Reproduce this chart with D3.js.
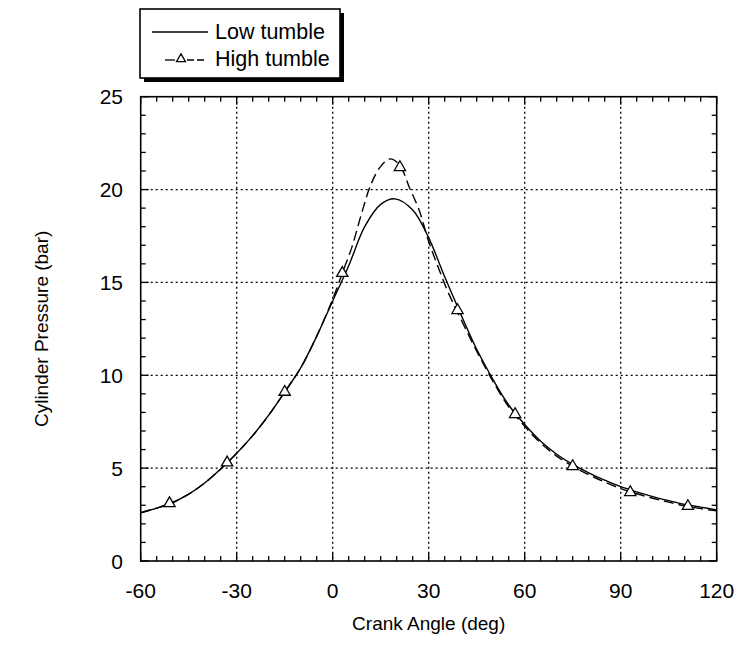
<!DOCTYPE html>
<html>
<head>
<meta charset="utf-8">
<script src="https://cdn.jsdelivr.net/npm/d3@7"></script>
<style>
  html, body { margin: 0; padding: 0; background: #fff; }
  svg { display: block; font-family: "Liberation Sans", Arial, Helvetica, sans-serif; }
</style>
</head>
<body>
<svg id="chart" width="738" height="646"></svg>
<script>
// Crank angle (deg) and cylinder pressure (bar) for the low tumble case
const lowAngle = [-60, -55, -50, -45, -40, -35, -30, -25, -20, -15, -10, -5, 0, 5, 10, 15, 19.5, 25, 30, 35, 40, 45, 50, 55, 60, 65, 70, 75, 80, 85, 90, 95, 100, 105, 110, 115, 120];
const lowPressure = [2.6, 2.85, 3.15, 3.6, 4.2, 4.95, 5.8, 6.75, 7.85, 9.1, 10.4, 12.1, 14.0, 15.9, 18.0, 19.2, 19.5, 18.9, 17.4, 15.3, 13.3, 11.4, 9.8, 8.4, 7.35, 6.45, 5.75, 5.2, 4.75, 4.35, 4.0, 3.72, 3.47, 3.25, 3.05, 2.9, 2.75];

// High tumble case
const highAngle = [-60, -55, -50, -45, -40, -35, -30, -25, -20, -15, -10, -5, 0, 3, 6, 9, 12, 15, 18, 21, 24, 27, 30, 33, 36, 39, 45, 50, 55, 60, 65, 70, 75, 80, 85, 90, 95, 100, 105, 110, 115, 120];
const highPressure = [2.6, 2.85, 3.15, 3.6, 4.2, 4.95, 5.8, 6.75, 7.85, 9.1, 10.4, 12.1, 14.1, 15.5, 16.9, 18.7, 20.3, 21.25, 21.65, 21.3, 20.1, 18.9, 17.2, 15.8, 14.5, 13.4, 11.3, 9.7, 8.3, 7.25, 6.35, 5.65, 5.1, 4.65, 4.25, 3.9, 3.62, 3.38, 3.17, 2.97, 2.82, 2.7];

// Symbol positions on the high tumble curve
const markerAngle = [-51, -33, -15, 3, 21, 39, 57, 75, 93, 111];
const markerPressure = [3.1, 5.3, 9.1, 15.5, 21.2, 13.5, 7.9, 5.1, 3.7, 2.95];

const xTicks = [-60, -30, 0, 30, 60, 90, 120];
const yTicks = [0, 5, 10, 15, 20, 25];
const legendLabels = ["Low tumble", "High tumble"];

const svg = d3.select("#chart");
const plotLeft = 140.7, plotRight = 716.7, plotTop = 96.7, plotBottom = 561;

const x = d3.scaleLinear().domain([-60, 120]).range([plotLeft, plotRight]);
const y = d3.scaleLinear().domain([0, 25]).range([plotBottom, plotTop]);

svg.append("defs").append("clipPath").attr("id", "plotclip")
  .append("rect").attr("x", plotLeft).attr("y", plotTop)
  .attr("width", plotRight - plotLeft).attr("height", plotBottom - plotTop);

// Dotted grid
const grid = svg.append("g").attr("stroke", "#000").attr("stroke-width", 1.3)
  .attr("stroke-dasharray", "2,3").attr("fill", "none");
xTicks.slice(1, -1).forEach(v => {
  grid.append("line").attr("x1", x(v)).attr("x2", x(v)).attr("y1", plotTop).attr("y2", plotBottom);
});
yTicks.slice(1, -1).forEach(v => {
  grid.append("line").attr("x1", plotLeft).attr("x2", plotRight).attr("y1", y(v)).attr("y2", y(v));
});

// Inward ticks on all four sides
const ticks = svg.append("g").attr("stroke", "#000").attr("stroke-width", 1.3);
d3.range(-60, 121, 5).forEach(v => {
  const len = v % 30 === 0 ? 8 : 5;
  ticks.append("line").attr("x1", x(v)).attr("x2", x(v)).attr("y1", plotBottom).attr("y2", plotBottom - len);
  ticks.append("line").attr("x1", x(v)).attr("x2", x(v)).attr("y1", plotTop).attr("y2", plotTop + len);
});
d3.range(0, 26, 1).forEach(v => {
  const len = v % 5 === 0 ? 8 : 5;
  ticks.append("line").attr("x1", plotLeft).attr("x2", plotLeft + len).attr("y1", y(v)).attr("y2", y(v));
  ticks.append("line").attr("x1", plotRight).attr("x2", plotRight - len).attr("y1", y(v)).attr("y2", y(v));
});

// Frame
svg.append("rect").attr("x", plotLeft).attr("y", plotTop)
  .attr("width", plotRight - plotLeft).attr("height", plotBottom - plotTop)
  .attr("fill", "none").attr("stroke", "#000").attr("stroke-width", 1.6);

// Tick labels
svg.append("g").selectAll("text").data(xTicks).join("text")
  .attr("x", d => x(d)).attr("y", 598)
  .attr("text-anchor", "middle").attr("font-size", 21).attr("fill", "#000")
  .text(d => d);
svg.append("g").selectAll("text").data(yTicks).join("text")
  .attr("x", 123).attr("y", d => y(d) + 7.5)
  .attr("text-anchor", "end").attr("font-size", 21).attr("fill", "#000")
  .text(d => d);

// Axis titles
svg.append("text").attr("x", (plotLeft + plotRight) / 2).attr("y", 630)
  .attr("text-anchor", "middle").attr("font-size", 19).attr("fill", "#000")
  .text("Crank Angle (deg)");
svg.append("text").attr("transform", `translate(48,${(plotTop + plotBottom) / 2}) rotate(-90)`)
  .attr("text-anchor", "middle").attr("font-size", 19).attr("fill", "#000")
  .text("Cylinder Pressure (bar)");

// Curves
const line = d3.line().x(d => x(d[0])).y(d => y(d[1])).curve(d3.curveCatmullRom.alpha(0.5));
const plot = svg.append("g").attr("clip-path", "url(#plotclip)");

plot.append("path").datum(d3.zip(highAngle, highPressure))
  .attr("d", line).attr("fill", "none").attr("stroke", "#000")
  .attr("stroke-width", 1.4).attr("stroke-dasharray", "10,5");
plot.append("path").datum(d3.zip(lowAngle, lowPressure))
  .attr("d", line).attr("fill", "none").attr("stroke", "#000")
  .attr("stroke-width", 1.4);

const tri = d3.symbol().type(d3.symbolTriangle).size(55);
plot.selectAll(".mk").data(d3.zip(markerAngle, markerPressure)).join("path")
  .attr("class", "mk")
  .attr("transform", d => `translate(${x(d[0])},${y(d[1])})`)
  .attr("d", tri).attr("fill", "#fff").attr("stroke", "#000").attr("stroke-width", 1.3);

// Legend box with drop shadow
const lg = svg.append("g");
lg.append("rect").attr("x", 144).attr("y", 13).attr("width", 200).attr("height", 69).attr("fill", "#000");
lg.append("rect").attr("x", 140).attr("y", 9).attr("width", 200).attr("height", 69)
  .attr("fill", "#fff").attr("stroke", "#000").attr("stroke-width", 1.6);

lg.append("line").attr("x1", 152).attr("x2", 208).attr("y1", 32).attr("y2", 32)
  .attr("stroke", "#000").attr("stroke-width", 1.3);
lg.append("line").attr("x1", 165).attr("x2", 175).attr("y1", 60).attr("y2", 60)
  .attr("stroke", "#000").attr("stroke-width", 1.3);
lg.append("line").attr("x1", 187).attr("x2", 205).attr("y1", 60).attr("y2", 60)
  .attr("stroke", "#000").attr("stroke-width", 1.3).attr("stroke-dasharray", "7,3");
lg.append("path").attr("transform", "translate(181,59)")
  .attr("d", d3.symbol().type(d3.symbolTriangle).size(35))
  .attr("fill", "#fff").attr("stroke", "#000").attr("stroke-width", 1.3);

lg.selectAll("text").data(legendLabels).join("text")
  .attr("x", 215).attr("y", (d, i) => i === 0 ? 38.5 : 65.5)
  .attr("font-size", 21.5).attr("fill", "#000")
  .text(d => d);
</script>
</body>
</html>
